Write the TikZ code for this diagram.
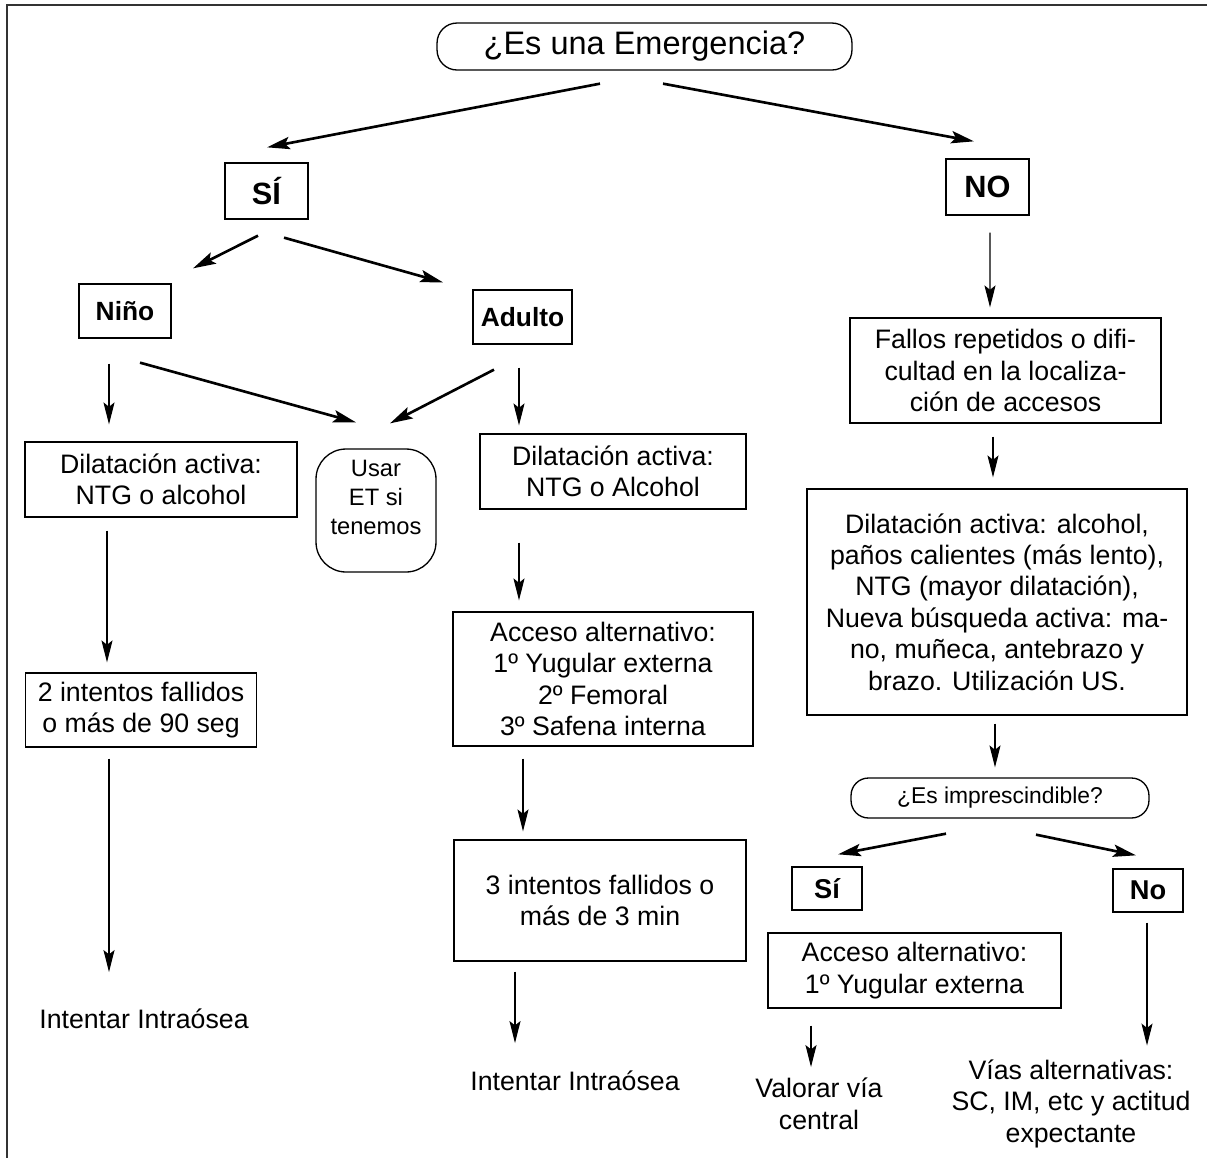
\documentclass[tikz,border=0pt]{standalone}
\usepackage{fontspec}
\setmainfont{Liberation Sans}
\usepackage{tikz}
\usetikzlibrary{arrows.meta,calc,positioning}
\newcommand\bodyFont{\fontsize{15.2}{17.9}\selectfont}
\newcommand\titleFont{\fontsize{18.5}{22}\selectfont}
\newcommand\smallFont{\fontsize{13}{16}\selectfont}
\newcommand\usarFont{\fontsize{13.5}{16.5}\selectfont}
\tikzset{
  basic-style/.style = {
    rectangle, draw, line width=0.75pt,
    inner sep=0pt, align=center,
    font=\bodyFont
  },
  box-style/.style = {
    basic-style,
    minimum width=#1
  },
  question-style/.style = {
    basic-style, rounded corners=0.4cm,
    font=\titleFont
  },
  answer-style/.style = {
    basic-style,
    font=\fontsize{17.5}{21}\selectfont\bfseries
  },
  case-style/.style = {
    basic-style,
    font=\fontsize{15}{18}\selectfont\bfseries
  },
  text-style/.style = {
    inner sep=0pt, align=center, font=\bodyFont
  },
  frame-style/.style = {
    draw=black!80, line width=1pt
  },
  every edge/.style = {draw, line width=0.6pt,
    -{Stealth[length=12.5pt,width=6.3pt,inset=2.5pt]}},
  thick-style/.style = {line width=1.5pt,
    -{Stealth[length=13pt,width=7pt,inset=2.5pt]}}
}

\begin{document}
\begin{tikzpicture}[x=0.02cm, y=-0.02cm]
  \useasboundingbox (0,0) rectangle (1207,1157);
  \draw[frame-style] (7,5) rectangle (1240,1190);

  % first question
  \node[question-style, minimum width=8.3cm, minimum height=0.94cm] (emergencia) at (644.5,46.5) {¿Es una Emergencia?};
  \node[answer-style, minimum width=1.66cm, minimum height=1.12cm] (si) at (266.5,191) {SÍ};
  \node[answer-style, minimum width=1.66cm, minimum height=1.12cm] (no) at (987.5,187) {NO};

  % left branch
  \node[case-style, minimum width=1.84cm, minimum height=1.08cm] (nino) at (125,311) {Niño};
  \node[case-style, minimum width=1.98cm, minimum height=1.08cm] (adulto) at (522.5,317) {Adulto};
  \node[box-style=5.44cm, minimum height=1.5cm] (dilNino) at (161,479.5) {Dilatación activa:\\NTG o alcohol};
  \node[basic-style, rounded corners=0.6cm, minimum width=2.4cm, minimum height=2.46cm,
        font=\usarFont, text depth=14.8pt] (usar) at (376,510.5) {Usar\\ET si\\tenemos};
  \node[box-style=5.32cm, minimum height=1.5cm] (dilAdulto) at (613,471.5) {Dilatación activa:\\NTG o Alcohol};
  \node[box-style=4.62cm, minimum height=1.48cm] (intNino) at (141,710) {2 intentos fallidos\\o más de 90 seg};
  \node[box-style=6cm, minimum height=2.68cm] (accAdulto) at (603,679) {Acceso alternativo:\\1º Yugular externa\\2º Femoral\\3º Safena interna};
  \node[box-style=5.84cm, minimum height=2.42cm] (intAdulto) at (600,900.5) {3 intentos fallidos o\\más de 3 min};
  \node[text-style] (ioNino) at (144,1019) {Intentar Intraósea};
  \node[text-style] (ioAdulto) at (575,1081) {Intentar Intraósea};

  % right branch
  \node[box-style=6.22cm, minimum height=2.1cm] (fallos) at (1005.5,370.5) {Fallos repetidos o difi-\\cultad en la localiza-\\ción de accesos};
  \node[box-style=7.6cm, minimum height=4.52cm] (dilNo) at (997,602) {Dilatación activa: alcohol,\\paños calientes (más lento),\\NTG (mayor dilatación),\\Nueva búsqueda activa: ma-\\no, muñeca, antebrazo y\\brazo. Utilización US.};
  \node[question-style, rounded corners=0.35cm, font=\smallFont, minimum width=5.96cm, minimum height=0.8cm] (impresc) at (1000,798) {¿Es imprescindible?};
  \node[answer-style, font=\fontsize{15.5}{18}\selectfont\bfseries, minimum width=1.4cm, minimum height=0.86cm] (siImp) at (827,888.5) {Sí};
  \node[answer-style, font=\fontsize{15.5}{18}\selectfont\bfseries, minimum width=1.4cm, minimum height=0.86cm] (noImp) at (1148,890.5) {No};
  \node[box-style=5.86cm, minimum height=1.5cm] (accNo) at (914.5,970.5) {Acceso alternativo:\\1º Yugular externa};
  \node[text-style] (valorar) at (819,1104) {Valorar vía\\central};
  \node[text-style] (vias) at (1071,1103.5) {Vías alternativas:\\SC, IM, etc y actitud\\expectante};

  % arrows
  \path ($(emergencia.south)+(-44.5,13)$) edge[thick-style] ($(si.north)+(0.5,-15)$);
  \path ($(emergencia.south)+(18.5,13)$) edge[thick-style] ($(no.north)+(-13.5,-17)$);
  \path ($(si.south)+(-8.5,16)$) edge[thick-style] ($(nino.north)+(68,-15)$);
  \path ($(si.south)+(17.5,18)$) edge[thick-style] ($(adulto.north)+(-79.5,-7)$);
  \path ($(nino.south)+(-16,25)$) edge ($(dilNino.north)+(-52,-17)$);
  \path ($(nino.south)+(15,24)$) edge[thick-style] ($(usar.north)+(-20,-26)$);
  \path ($(adulto.south)+(-28.5,25)$) edge[thick-style] ($(usar.north)+(14,-25)$);
  \path ($(adulto.south)+(-3.5,23)$) edge ($(dilAdulto.north)+(-94,-8)$);
  \path ($(dilNino.south)+(-54,13)$) edge ($(intNino.north)+(-34,-10)$);
  \path ($(dilAdulto.south)+(-94,33)$) edge ($(accAdulto.north)+(-84,-11)$);
  \path ($(intNino.south)+(-32,11)$) edge ($(ioNino.center)+(-35,-47)$);
  \path ($(accAdulto.south)+(-80,12)$) edge ($(intAdulto.north)+(-77,-8)$);
  \path ($(intAdulto.south)+(-85,10)$) edge ($(ioAdulto.center)+(-60,-38)$);
  \path ($(no.south)+(2.5,17)$) edge ($(fallos.north)+(-15.5,-10)$);
  \path ($(fallos.south)+(-12.5,13)$) edge ($(dilNo.north)+(-4,-11)$);
  \path ($(dilNo.south)+(-2,8)$) edge ($(impresc.north)+(-5,-10)$);
  \path ($(impresc.south)+(-54,15)$) edge[thick-style] ($(siImp.north)+(11,-12)$);
  \path ($(impresc.south)+(36,16)$) edge[thick-style] ($(noImp.north)+(-12,-13)$);
  \path ($(accNo.south)+(-103.5,17)$) edge ($(valorar.center)+(-8,-37)$);
  \path ($(noImp.south)+(-1,10)$) edge ($(vias.center)+(76,-58)$);
\end{tikzpicture}
\end{document}
